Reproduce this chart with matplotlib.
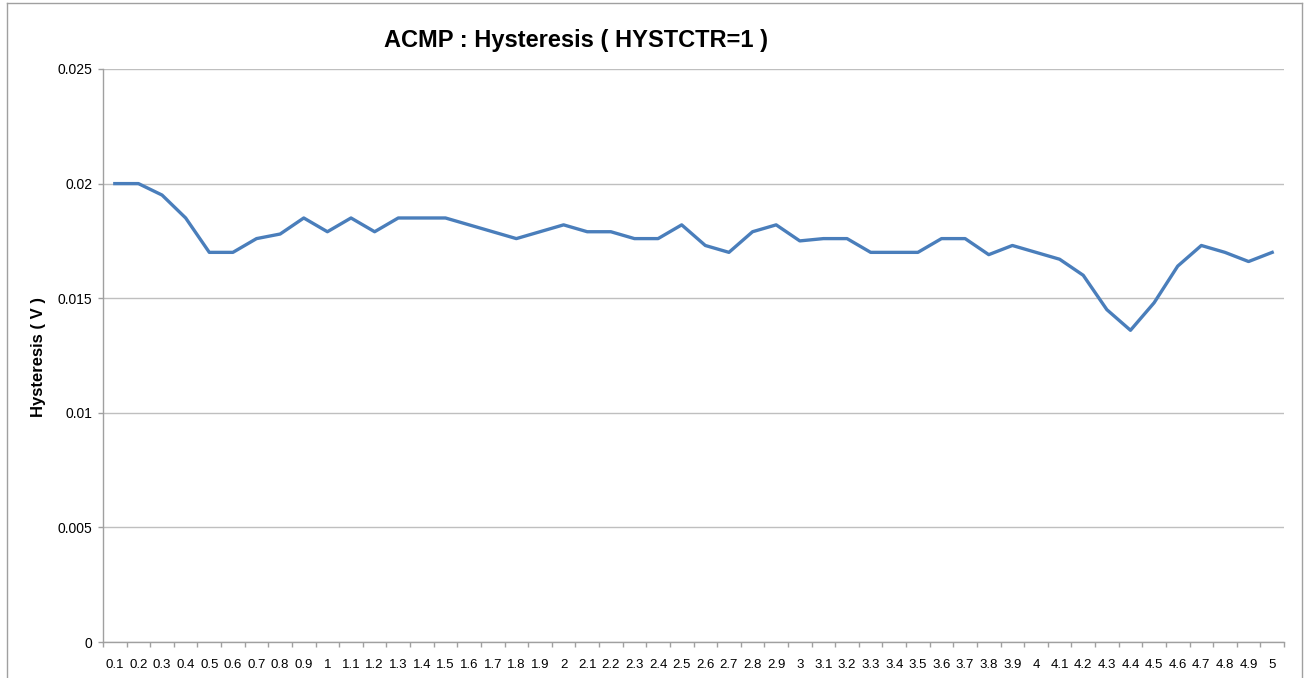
import numpy as np
import matplotlib.pyplot as plt
from matplotlib.lines import Line2D

# input voltage categories (V)
vin = ['0.1', '0.2', '0.3', '0.4', '0.5', '0.6', '0.7', '0.8', '0.9', '1',
       '1.1', '1.2', '1.3', '1.4', '1.5', '1.6', '1.7', '1.8', '1.9', '2',
       '2.1', '2.2', '2.3', '2.4', '2.5', '2.6', '2.7', '2.8', '2.9', '3',
       '3.1', '3.2', '3.3', '3.4', '3.5', '3.6', '3.7', '3.8', '3.9', '4',
       '4.1', '4.2', '4.3', '4.4', '4.5', '4.6', '4.7', '4.8', '4.9', '5']

# measured hysteresis (V)
hyst = [0.0200, 0.0200, 0.0195, 0.0185, 0.0170, 0.0170, 0.0176, 0.0178, 0.0185, 0.0179,
        0.0185, 0.0179, 0.0185, 0.0185, 0.0185, 0.0182, 0.0179, 0.0176, 0.0179, 0.0182,
        0.0179, 0.0179, 0.0176, 0.0176, 0.0182, 0.0173, 0.0170, 0.0179, 0.0182, 0.0175,
        0.0176, 0.0176, 0.0170, 0.0170, 0.0170, 0.0176, 0.0176, 0.0169, 0.0173, 0.0170,
        0.0167, 0.0160, 0.0145, 0.0136, 0.0148, 0.0164, 0.0173, 0.0170, 0.0166, 0.0170]

yticks = [0, 0.005, 0.01, 0.015, 0.02, 0.025]
ytick_labels = ['0', '0.005', '0.01', '0.015', '0.02', '0.025']

plt.rcParams['font.family'] = ['Liberation Sans', 'DejaVu Sans']

W, H = 1304, 678
fig = plt.figure(figsize=(W / 100, H / 100), dpi=100)
ax = fig.add_axes([103 / W, (H - 642) / H, (1284 - 103) / W, (642 - 69) / H])

x = np.arange(len(vin))
ax.plot(x, hyst, color='#4A7EBB', linewidth=2.4, solid_joinstyle='round')

ax.set_xlim(-0.5, len(vin) - 0.5)
ax.set_ylim(0, 0.025)

ax.set_yticks(yticks)
ax.set_yticklabels(ytick_labels, fontsize=10)
ax.yaxis.grid(True, color='#BFBFBF', linewidth=1.0)
ax.set_axisbelow(True)

ax.set_xticks(x)
ax.set_xticklabels(vin, fontsize=9.5)
ax.set_xticks(np.arange(len(vin) + 1) - 0.5, minor=True)
ax.tick_params(axis='x', which='major', length=0, pad=12)
ax.tick_params(axis='x', which='minor', length=3.5, color='#A0A0A0', width=1)
ax.tick_params(axis='y', length=3.5, color='#A0A0A0', width=1, pad=4)

for side in ['top', 'right']:
    ax.spines[side].set_visible(False)
for side in ['left', 'bottom']:
    ax.spines[side].set_color('#A0A0A0')
    ax.spines[side].set_linewidth(1.0)

fig.text(576 / W, 1 - 40 / H, 'ACMP : Hysteresis ( HYSTCTR=1 )',
         fontsize=17, fontweight='bold', ha='center', va='center')
fig.text(38 / W, 1 - 357 / H, 'Hysteresis ( V )', fontsize=12,
         fontweight='bold', rotation=90, ha='center', va='center')

# chart area frame
fc = '#A0A0A0'
fig.add_artist(Line2D([7 / W, 7 / W], [0, 1 - 3 / H], color=fc, linewidth=1.0))
fig.add_artist(Line2D([7 / W, 1302 / W], [1 - 3 / H, 1 - 3 / H], color=fc, linewidth=1.0))
fig.add_artist(Line2D([1302 / W, 1302 / W], [0, 1 - 3 / H], color=fc, linewidth=1.0))

fig.savefig('out.png', dpi=100)
